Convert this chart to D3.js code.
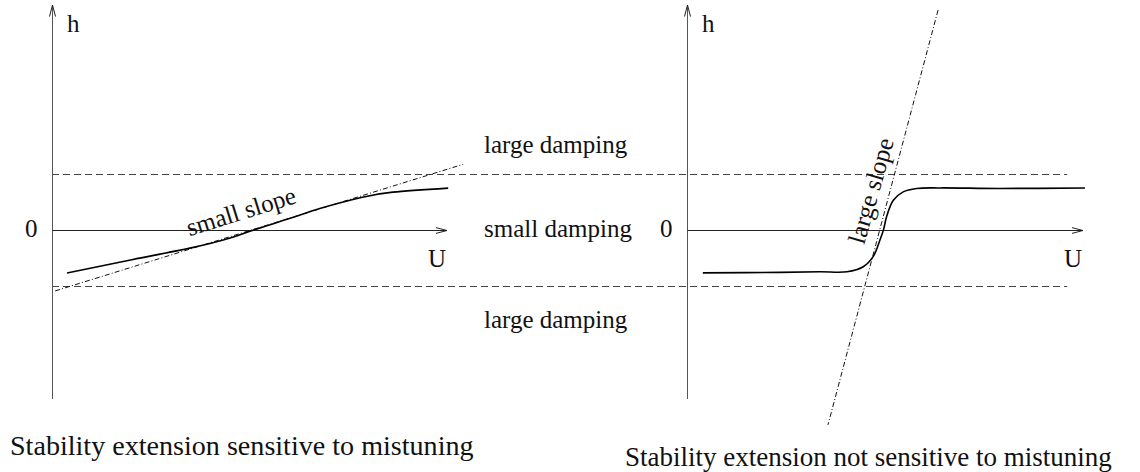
<!DOCTYPE html>
<html>
<head>
<meta charset="utf-8">
<script src="https://cdn.jsdelivr.net/npm/d3@7"></script>
<style>
  html, body { margin: 0; padding: 0; background: #fff; }
  svg { display: block; }
</style>
</head>
<body>
<svg id="chart" width="1140" height="472"></svg>
<script>
// Left panel: response curve h(U) with a small slope through the origin
const leftU = [0.38, 2.05, 3.49, 4.51, 5.09, 6.03, 6.78, 7.80, 8.63, 10.03];
const leftH = [-0.76, -0.52, -0.32, -0.14, 0.0, 0.21, 0.385, 0.577, 0.675, 0.746];
const leftTangentU = [0.08, 10.41];
const leftTangentH = [-1.08, 1.17];

// Right panel: response curve h(U) with a steep transition
const rightU = [0.40, 2.35, 3.36, 4.04, 4.45, 4.70, 4.87, 4.96, 5.04, 5.21, 5.46, 5.80, 6.39, 7.90, 10.05];
const rightH = [-0.76, -0.75, -0.74, -0.74, -0.65, -0.47, -0.18, 0.0, 0.24, 0.53, 0.68, 0.74, 0.75, 0.74, 0.75];
const rightTangentU = [6.34, 3.56];
const rightTangentH = [3.91, -3.46];

// Damping thresholds and band labels
const thresholds = [1, -1];
const bandLabels = ["large damping", "small damping", "large damping"];
const bandLevels = [1.37, -0.12, -1.73];
const captions = ["Stability extension sensitive to mistuning", "Stability extension not sensitive to mistuning"];

const FONT = "'Liberation Serif', 'Times New Roman', Times, 'DejaVu Serif', serif";

const svg = d3.select("#chart");

const y = d3.scaleLinear().domain([-3, 4]).range([399, 5]);
const xL = d3.scaleLinear().domain([0, 10]).range([52, 447]);
const xR = d3.scaleLinear().domain([0, 10]).range([687, 1083]);

function label(parent, txt, size) {
  return parent.append("text")
    .attr("font-family", FONT)
    .attr("font-size", size)
    .attr("fill", "#111")
    .text(txt);
}

// open arrowhead
const defs = svg.append("defs");
defs.append("marker")
  .attr("id", "arrow")
  .attr("markerUnits", "userSpaceOnUse")
  .attr("viewBox", "0 0 12 8")
  .attr("refX", 11.5).attr("refY", 4)
  .attr("markerWidth", 12).attr("markerHeight", 8)
  .attr("orient", "auto")
  .append("path")
  .attr("d", "M0,1 L11.5,4 L0,7")
  .attr("fill", "none")
  .attr("stroke", "#222")
  .attr("stroke-width", 1);

// damping threshold lines spanning both panels
svg.append("g").selectAll("line")
  .data(thresholds)
  .join("line")
  .attr("x1", xL(0)).attr("x2", xR(9.6))
  .attr("y1", d => Math.round(y(d)) + 0.5).attr("y2", d => Math.round(y(d)) + 0.5)
  .attr("stroke", "#444").attr("stroke-width", 1)
  .attr("stroke-dasharray", "7,4");

function panel(x, us, hs, tu, th, curve) {
  const g = svg.append("g");
  const x0 = Math.round(x(0)) + 0.5;
  const y0 = Math.round(y(0)) + 0.5;
  // vertical h axis
  g.append("line")
    .attr("x1", x0).attr("x2", x0)
    .attr("y1", y(-3)).attr("y2", y(4))
    .attr("stroke", "#555").attr("stroke-width", 1)
    .attr("marker-end", "url(#arrow)");
  // horizontal U axis
  g.append("line")
    .attr("x1", x0).attr("x2", x(10))
    .attr("y1", y0).attr("y2", y0)
    .attr("stroke", "#222").attr("stroke-width", 1)
    .attr("marker-end", "url(#arrow)");

  // tangent (dash-dot)
  g.append("line")
    .attr("x1", x(tu[0])).attr("y1", y(th[0]))
    .attr("x2", x(tu[1])).attr("y2", y(th[1]))
    .attr("stroke", "#111").attr("stroke-width", 1)
    .attr("stroke-dasharray", "5,2.2,1,2.2");

  // response curve
  const line = d3.line()
    .x(d => x(d[0])).y(d => y(d[1]))
    .curve(curve);
  g.append("path")
    .datum(d3.zip(us, hs))
    .attr("d", line)
    .attr("fill", "none")
    .attr("stroke", "#000")
    .attr("stroke-width", 1.6);

  // axis labels
  label(g, "h", 25).attr("x", x(0) + 15).attr("y", 32);
  label(g, "U", 25).attr("x", x(10) - 19).attr("y", 267);
  label(g, "0", 25).attr("x", x(0) - 27).attr("y", y(0) + 7);
  return g;
}

panel(xL, leftU, leftH, leftTangentU, leftTangentH, d3.curveNatural);
panel(xR, rightU, rightH, rightTangentU, rightTangentH, d3.curveCatmullRom.alpha(0.5));

// slope annotations along the tangents
label(svg, "small slope", 25)
  .attr("transform", `translate(${xL(4.85)},${y(0.19)}) rotate(-17.3)`)
  .attr("text-anchor", "middle");
label(svg, "large slope", 25)
  .attr("transform", `translate(${xR(4.85)},${y(0.66)}) rotate(-74)`)
  .attr("text-anchor", "middle");

// damping band labels between the panels
bandLabels.forEach((t, i) => {
  label(svg, t, 25).attr("x", 484).attr("y", y(bandLevels[i]));
});

// captions
label(svg, captions[0], 28.1).attr("x", 10).attr("y", 455);
label(svg, captions[1], 27.0).attr("x", 625).attr("y", 466);
</script>
</body>
</html>
